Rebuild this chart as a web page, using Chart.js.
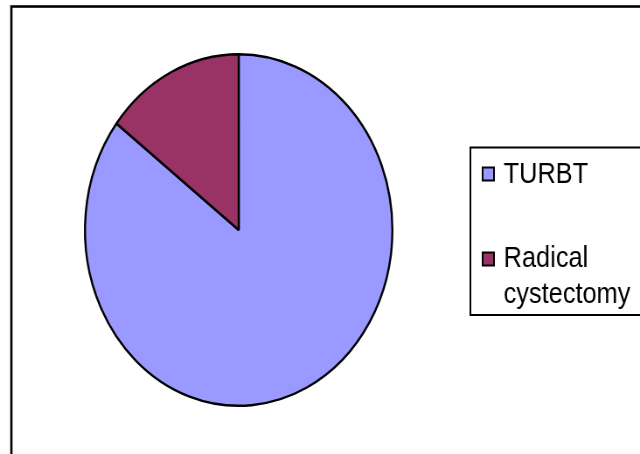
<!DOCTYPE html>
<html>
<head>
<meta charset="utf-8">
<script src="https://cdn.jsdelivr.net/npm/chart.js@4/dist/chart.umd.min.js"></script>
<style>
  html, body { margin: 0; padding: 0; background: #fff; overflow: hidden; }
</style>
</head>
<body>
<!-- buffer is wider than its display size, so the pie comes out as the squeezed ellipse of the original -->
<canvas id="chart" width="732" height="454" style="display:block;width:640px;height:454px"></canvas>
<script>
const categories = ["TURBT", "Radical cystectomy"];
const legendLines = [["TURBT"], ["Radical", "cystectomy"]];
const counts = [35, 6];
const sliceColors = ["#9999FF", "#993366"];

// frame round the whole chart + the boxed legend on the right
const framePlugin = {
  id: "frame",
  beforeDraw(chart) {
    const ctx = chart.ctx;
    ctx.save();
    ctx.fillStyle = "#fff";
    ctx.fillRect(0, 0, chart.width, chart.height);
    ctx.strokeStyle = "#000";
    ctx.lineWidth = 2.6;
    ctx.strokeRect(13, 6.5, chart.width + 40, chart.height + 40);
    ctx.restore();
  },
  afterDraw(chart) {
    const ctx = chart.ctx;
    const ds = chart.data.datasets[0];
    ctx.save();
    ctx.strokeStyle = "#000";
    ctx.lineWidth = 2;
    ctx.strokeRect(538, 147.5, 300, 167.5);

    ctx.font = "29px 'Liberation Sans', Arial, sans-serif";
    ctx.textBaseline = "alphabetic";
    const rowTop = [166.5, 251.5];
    const rowBase = [183, 266.5];
    chart.data.labels.forEach((lab, i) => {
      ctx.fillStyle = ds.backgroundColor[i];
      ctx.fillRect(552, rowTop[i] + 1, 13, 13);
      ctx.lineWidth = 2;
      ctx.strokeRect(552, rowTop[i] + 1, 13, 13);
      ctx.fillStyle = "#000";
      legendLines[i].forEach((line, j) => {
        ctx.fillText(line, 576, rowBase[i] + j * 36.5);
      });
    });
    ctx.restore();
  }
};

new Chart(document.getElementById("chart"), {
  type: "pie",
  data: {
    labels: categories,
    datasets: [{
      data: counts,
      backgroundColor: sliceColors,
      borderColor: "#000",
      borderWidth: 2.4
    }]
  },
  options: {
    responsive: false,
    animation: false,
    layout: { padding: { left: 96, top: 53, right: 282, bottom: 47 } },
    plugins: {
      legend: { display: false },
      tooltip: { enabled: false }
    }
  },
  plugins: [framePlugin]
});
</script>
</body>
</html>
